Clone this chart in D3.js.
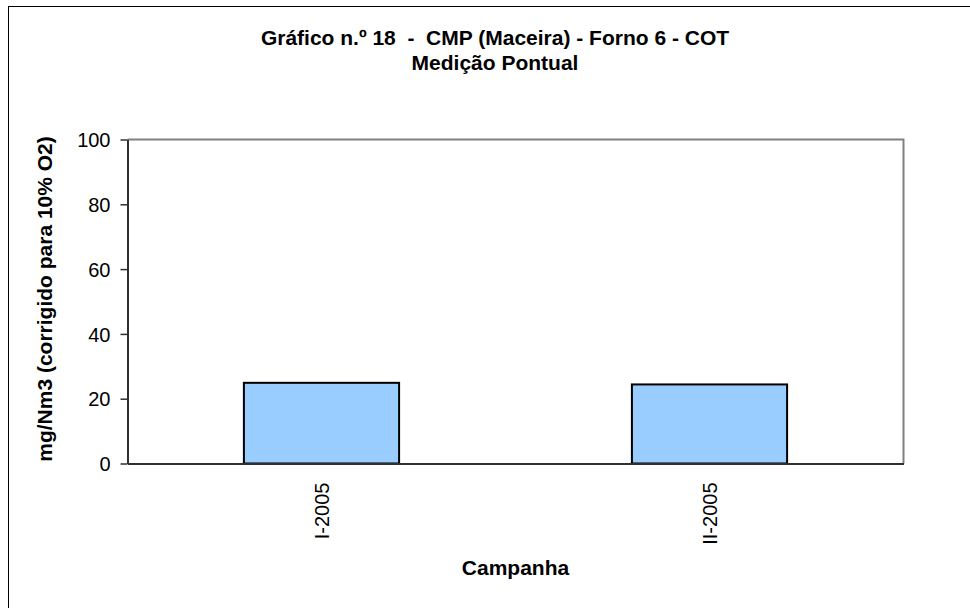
<!DOCTYPE html>
<html><head><meta charset="utf-8">
<script src="https://cdn.jsdelivr.net/npm/d3@7"></script>
<style>html,body{margin:0;padding:0;background:#fff;}svg{display:block;}text{white-space:pre;}</style>
</head><body>
<svg id="c" width="970" height="608"></svg>
<script>
const categories = ["I-2005", "II-2005"];
const values = [24.9, 24.4];
const yTicks = [0, 20, 40, 60, 80, 100];
const titleLines = ["Gráfico n.º 18  -  CMP (Maceira) - Forno 6 - COT", "Medição Pontual"];
const yTitle = "mg/Nm3 (corrigido para 10% O2)";
const xTitle = "Campanha";

const svg = d3.select("#c");
const font = "'Liberation Sans', Arial, sans-serif";
const L = 127.5, R = 903.5, T = 139.5, B = 463.5;

svg.append("rect").attr("x", 8.5).attr("y", 6.5).attr("width", 1000).attr("height", 700)
  .attr("fill", "#fff").attr("stroke", "#000").attr("stroke-width", 1);

const x = d3.scaleBand().domain(categories).range([L, R]).paddingInner(0).paddingOuter(0);
const y = d3.scaleLinear().domain([0, 100]).range([B, T]);

svg.append("path").attr("d", `M${L},${T}H${R}V${B}`).attr("fill", "none")
  .attr("stroke", "#808080").attr("stroke-width", 2);

const bw = x.bandwidth() * 0.4;
svg.selectAll("rect.bar").data(values).enter().append("rect").attr("class", "bar")
  .attr("x", (d, i) => x(categories[i]) + x.bandwidth() / 2 - bw / 2)
  .attr("width", bw)
  .attr("y", d => y(d))
  .attr("height", d => y(0) - y(d))
  .attr("fill", "#99CCFF").attr("stroke", "#000").attr("stroke-width", 2);

const yAxis = svg.append("g").attr("transform", `translate(${L},0)`)
  .call(d3.axisLeft(y).tickValues(yTicks).tickSize(7).tickPadding(10).tickSizeOuter(0));
yAxis.select(".domain").attr("stroke", "#303030").attr("stroke-width", 2);
yAxis.selectAll(".tick line").attr("stroke", "#303030").attr("stroke-width", 1.5);
yAxis.selectAll(".tick text").attr("font-family", font).attr("font-size", 20).attr("fill", "#000").attr("dy", "0.36em");

const xAxis = svg.append("g").attr("transform", `translate(0,${B})`)
  .call(d3.axisBottom(x).tickSize(0).tickSizeOuter(0).tickPadding(0));
xAxis.select(".domain").attr("stroke", "#303030").attr("stroke-width", 2);
xAxis.selectAll(".tick text").attr("font-family", font).attr("font-size", 20).attr("fill", "#000")
  .attr("text-anchor", "end").attr("transform", "rotate(-90)")
  .attr("x", -19).attr("y", 0).attr("dy", "0.36em");

svg.selectAll("text.title").data(titleLines).enter().append("text").attr("class", "title")
  .attr("x", 495).attr("y", (d, i) => 45 + i * 25)
  .attr("text-anchor", "middle").attr("font-family", font).attr("font-weight", "bold")
  .attr("font-size", 21).attr("fill", "#000").attr("xml:space", "preserve").text(d => d);

svg.append("text").attr("transform", "translate(52,299) rotate(-90)")
  .attr("text-anchor", "middle").attr("font-family", font).attr("font-weight", "bold")
  .attr("font-size", 21).attr("fill", "#000").text(yTitle);

svg.append("text").attr("x", (L + R) / 2).attr("y", 575)
  .attr("text-anchor", "middle").attr("font-family", font).attr("font-weight", "bold")
  .attr("font-size", 21).attr("fill", "#000").text(xTitle);
</script>
</body></html>
